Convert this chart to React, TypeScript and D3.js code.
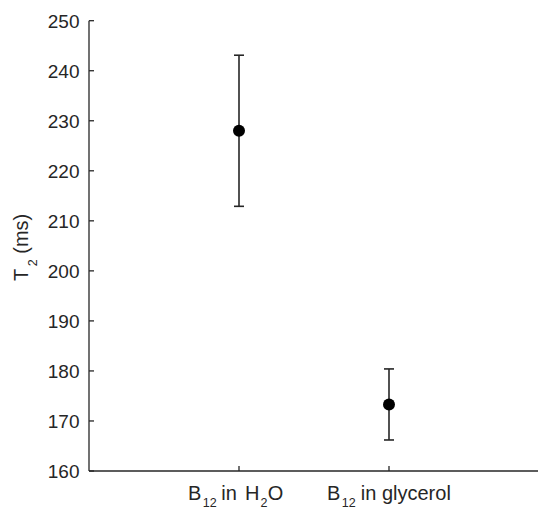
import React from "react";
import * as d3 from "d3";

const categories = ["B12 in H2O", "B12 in glycerol"];
const means = [228.0, 173.3];
const upper = [243.1, 180.4];
const lower = [212.9, 166.2];
const yTicks = [160, 170, 180, 190, 200, 210, 220, 230, 240, 250];

const W = 538;
const H = 509;
const left = 89;
const top = 20.7;
const bottom = 471;
const right = 539;
const ink = "#262626";
const font = "Arial, 'Liberation Sans', Helvetica, sans-serif";
const tickFont = 19;
const labelFont = 20;
const subFont = 12.5;
const subShift = 7;

// Category labels with TeX-style subscripts (B_{12}, H_{2}O)
function CategoryLabel({ idx }: { idx: number }) {
  const sub = { fontSize: subFont } as React.CSSProperties;
  if (idx === 0) {
    return (
      <>
        <tspan>B</tspan>
        <tspan style={sub} dx={1.5} dy={subShift}>12</tspan>
        <tspan dx={-1} dy={-subShift}> in</tspan>
        <tspan dx={2.5}> H</tspan>
        <tspan style={sub} dx={1} dy={subShift}>2</tspan>
        <tspan dx={0.3} dy={-subShift}>O</tspan>
      </>
    );
  }
  return (
    <>
      <tspan>B</tspan>
      <tspan style={sub} dx={1.5} dy={subShift}>12</tspan>
      <tspan dx={-0.5} dy={-subShift}> in glycerol</tspan>
    </>
  );
}

const labelOffsets = [-51, -62];

export default function App() {
  const x = d3.scaleLinear().domain([0, 3]).range([left, right]);
  const y = d3.scaleLinear().domain([160, 250]).range([bottom, top]);
  const cap = 5;

  return (
    <svg width={W} height={H} style={{ position: "absolute", left: 0, top: 0, background: "#fff" }}>
      <rect width={W} height={H} fill="#fff" />
      {/* axes */}
      <line x1={left} x2={left} y1={y(250)} y2={y(160)} stroke={ink} strokeWidth={1.3} />
      <line x1={left} x2={right} y1={y(160)} y2={y(160)} stroke={ink} strokeWidth={1.3} />
      {yTicks.map((t) => (
        <g key={t}>
          <line x1={left} x2={left + 5} y1={y(t)} y2={y(t)} stroke={ink} strokeWidth={1.3} />
          <text
            x={left - 9.5}
            y={y(t)}
            dy="0.36em"
            textAnchor="end"
            fontFamily={font}
            fontSize={tickFont}
            fill={ink}
          >
            {t}
          </text>
        </g>
      ))}
      {categories.map((c, i) => (
        <g key={c}>
          <line x1={x(i + 1)} x2={x(i + 1)} y1={y(160)} y2={y(160) - 5} stroke={ink} strokeWidth={1.3} />
          <text
            x={x(i + 1) + labelOffsets[i]}
            y={499.5}
            textAnchor="start"
            fontFamily={font}
            fontSize={labelFont}
            fill={ink}
          >
            <CategoryLabel idx={i} />
          </text>
        </g>
      ))}
      {/* y label: T_2 (ms) */}
      <text
        transform={`translate(28, 281) rotate(-90)`}
        textAnchor="start"
        fontFamily={font}
        fontSize={labelFont}
        fill={ink}
      >
        <tspan>T</tspan>
        <tspan style={{ fontSize: subFont }} dx={2.5} dy={9}>2</tspan>
        <tspan dy={-9}> (ms)</tspan>
      </text>
      {/* mean ± error */}
      {means.map((m, i) => {
        const cx = x(i + 1);
        return (
          <g key={i}>
            <line x1={cx} x2={cx} y1={y(upper[i])} y2={y(lower[i])} stroke={ink} strokeWidth={1.6} />
            <line x1={cx - cap} x2={cx + cap} y1={y(upper[i])} y2={y(upper[i])} stroke={ink} strokeWidth={1.6} />
            <line x1={cx - cap} x2={cx + cap} y1={y(lower[i])} y2={y(lower[i])} stroke={ink} strokeWidth={1.6} />
            <circle cx={cx} cy={y(m)} r={6} fill="#000" />
          </g>
        );
      })}
    </svg>
  );
}
